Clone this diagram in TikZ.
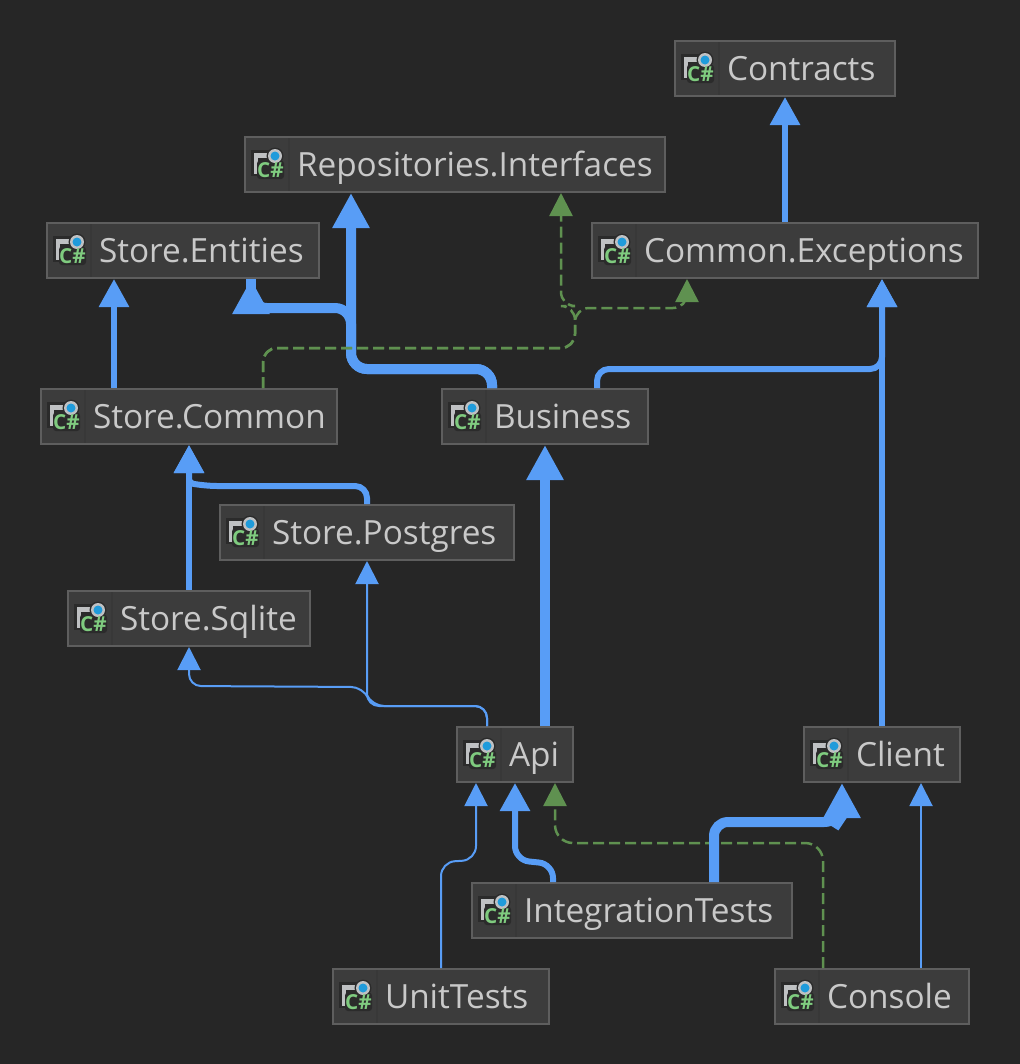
\documentclass[tikz,border=0pt]{standalone}
\usepackage{fontspec}
\setmainfont{Open Sans}
\usepackage{tikz}
\usetikzlibrary{arrows.meta}
\definecolor{canvascol}{HTML}{262626}
\definecolor{boxcol}{HTML}{3C3C3C}
\definecolor{boxline}{HTML}{5E5E5E}
\definecolor{boxsep}{HTML}{383838}
\definecolor{labelcol}{HTML}{C9C9C9}
\definecolor{refblue}{HTML}{589DF6}
\definecolor{refgreen}{HTML}{5F9150}
\definecolor{iconback}{HTML}{2B2B2B}
\definecolor{icongrey}{HTML}{BFC1C3}
\definecolor{icongreen}{HTML}{7FCB7F}
\definecolor{icondot}{HTML}{1F9BDB}
\newlength{\unitpx}
\setlength{\unitpx}{0.75pt}
\tikzset{
	projbox/.style={draw=boxline,fill=boxcol,text=labelcol,line width=1.5pt,inner xsep=0pt,inner ysep=0pt,
		minimum height=55\unitpx,text width=#1\unitpx,text height=28\unitpx,text depth=5\unitpx,align=left,
		font=\fontsize{25pt}{28pt}\selectfont,execute at begin node={\hspace*{52\unitpx}}},
	thinedge/.style={draw=refblue,line width=2\unitpx,-{Triangle[width=17.25pt,length=17.25pt]}},
	midedge/.style={draw=refblue,line width=6\unitpx,-{Triangle[width=21.75pt,length=21pt]}},
	heavyedge/.style={draw=refblue,line width=10\unitpx,-{Triangle[width=26.25pt,length=26.25pt]}},
	implicitedge/.style={draw=refgreen,line width=2.5\unitpx,dash pattern=on 11\unitpx off 5\unitpx,
		-{Triangle[width=17.25pt,length=17.25pt]}},
	pics/csicon/.style={code={
		\fill[boxsep] (44,-26.5) rectangle (45.5,26.5);
		\fill[iconback] (7,-15) rectangle (25,11);
		\fill[icongrey] (10,-12) rectangle (25,-7);
		\fill[icongrey] (10,-12) rectangle (14,9);
		\fill[iconback,rounded corners=3\unitpx] (13,-4) rectangle (40,14.5);
		\fill[iconback] (31,-8.5) circle (8.5\unitpx);
		\fill[icongrey] (31,-8.5) circle (7\unitpx);
		\fill[icondot] (31,-8.5) circle (4.5\unitpx);
		\node[inner sep=0pt,text=icongreen,font=\fontsize{15.5pt}{15.5pt}\selectfont\bfseries] (-cs) at (26.5,5.5) {C\#};
	}}
}
\begin{document}
\begin{tikzpicture}[x=\unitpx,y=-\unitpx,rounded corners=0pt]
	\fill[canvascol] (0,0) rectangle (1020,1064);
	%Nodes
	\node[projbox=220] (contracts) at (785,68.5) {Contracts};
	\node[projbox=420] (repoint) at (455,164.5) {Repositories.Interfaces};
	\node[projbox=272] (entities) at (183,250.5) {Store.Entities};
	\node[projbox=386] (exceptions) at (785,250.5) {Common.Exceptions};
	\node[projbox=296] (common) at (189,416.5) {Store.Common};
	\node[projbox=206] (business) at (545,416.5) {Business};
	\node[projbox=294] (postgres) at (367,532.5) {Store.Postgres};
	\node[projbox=242] (sqlite) at (189,618.5) {Store.Sqlite};
	\node[projbox=116] (api) at (515,754.5) {Api};
	\node[projbox=156] (client) at (882,754.5) {Client};
	\node[projbox=320] (integration) at (632,910.5) {IntegrationTests};
	\node[projbox=216] (unit) at (441,996.5) {UnitTests};
	\node[projbox=194] (console) at (872,996.5) {Console};
	\foreach \n in {contracts,repoint,entities,exceptions,common,business,postgres,sqlite,api,client,integration,unit,console}
		\pic (\n-icon) at (\n.west) {csicon};

	%Lines
	\draw[midedge] (exceptions.north) -- (contracts.south);
	\draw[midedge] (common.north -| 114,0) -- (entities.south -| 114,0);
	\draw[midedge,rounded corners=12\unitpx] (business.north -| 597,0) -- (597,369) -- (882,369) -- (exceptions.south -| 882,0);
	\draw[midedge] (client.north) -- (exceptions.south -| client.north);
	\draw[heavyedge] (api.north -| 545,0) -- (business.south);
	\draw[midedge] (sqlite.north) -- (common.south);
	\draw[midedge] (postgres.north) [rounded corners=12\unitpx] -- (367,486) -- (205,486) [rounded corners=4\unitpx] -- (189,483) -- (common.south);
	\draw[thinedge,rounded corners=12\unitpx] (api.north -| 487,0) -- (487,706) -- (367,706) -- (postgres.south);
	\draw[thinedge,rounded corners=12\unitpx] (api.north -| 487,0) -- (487,706) -- (372,706) -- (363,687) -- (189,686) -- (sqlite.south);
	\draw[thinedge,rounded corners=14\unitpx] (unit.north) -- (441,862) -- (476,860) -- (api.south -| 476,0);
	\draw[midedge,rounded corners=14\unitpx] (integration.north -| 553,0) -- (553,864) -- (515,860) -- (api.south);
	\draw[thinedge] (console.north -| 921,0) -- (client.south -| 921,0);
	\draw[implicitedge,rounded corners=18\unitpx] (console.north -| 823,0) -- (823,843) -- (555,843) -- (api.south -| 555,0);
	\draw[heavyedge,rounded corners=14\unitpx] (integration.north -| 714,0) -- (714,822) -- (838,822) -- (842,816) -- (client.south -| 842,0);
	\draw[heavyedge,rounded corners=16\unitpx] (business.north -| 492,0) -- (492,369) -- (351,369) -- (repoint.south -| 351,0);
	\draw[heavyedge,rounded corners=16\unitpx] (business.north -| 492,0) -- (492,369) -- (351,369) -- (351,308) -- (251,308) -- (entities.south -| 251,0);
	\draw[heavyedge,-] (251,304) -- (entities.south -| 251,0);
	\draw[implicitedge,rounded corners=14\unitpx] (common.north -| 263,0) -- (263,348) -- (575,348) -- (575,308) -- (687,308) -- (exceptions.south -| 687,0);
	\draw[implicitedge,rounded corners=14\unitpx] (common.north -| 263,0) -- (263,348) -- (575,348) -- (575,306) -- (561,306) -- (repoint.south -| 561,0);
\end{tikzpicture}
\end{document}
